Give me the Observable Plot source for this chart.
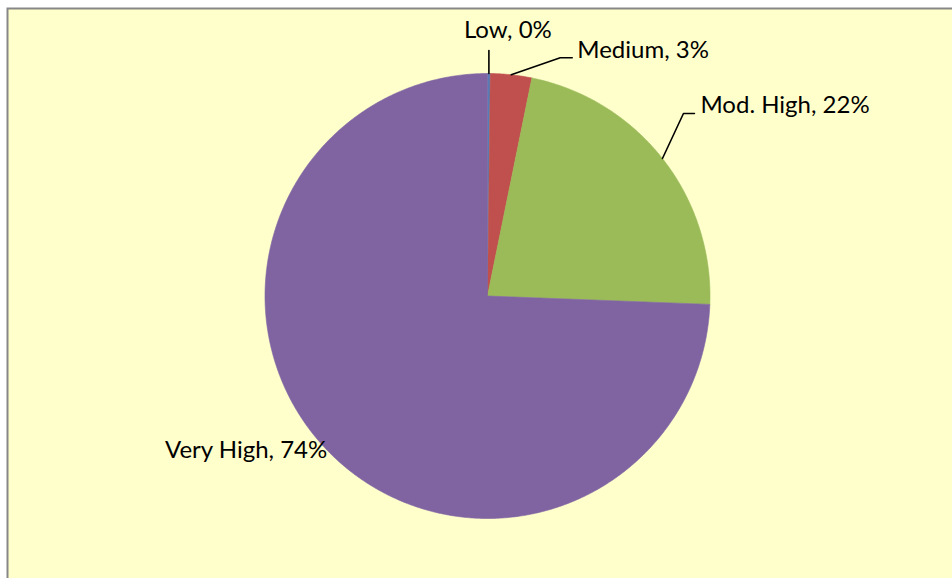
<!DOCTYPE html>
<html><head><meta charset="utf-8">
<script src="https://cdn.jsdelivr.net/npm/d3@7"></script>
<script src="https://cdn.jsdelivr.net/npm/@observablehq/plot@0.6"></script>
<style>html,body{margin:0;padding:0;background:#fff;overflow:hidden}</style>
</head><body><div id="chart"></div>
<script>
// Data
const categories = ["Low", "Medium", "Mod. High", "Very High"];
const values = [0.2, 3.0, 22.4, 74.4];
const colors = ["#4F81BD", "#C0504D", "#9BBB59", "#8064A2"];

// Layout (pixel offsets from each slice's mid-angle point on the rim)
const leaderLayout = [
  [[0, -23]],
  [[49, -17], [61, -17]],
  [[21, -45], [32, -45]],
  []
];
const textLayout = [
  {dx: -25, dy: -43.5, anchor: "start"},
  {dx: 66, dy: -24, anchor: "start"},
  {dx: 38, dy: -53, anchor: "start"},
  {dx: 0, dy: 0, anchor: "end"}
];

const W = 952, H = 578, cx = 487, cy = 295.5, R = 222.5;
const total = d3.sum(values);
let cum = 0;
const slices = categories.map((c, i) => {
  const a0 = cum / total * 2 * Math.PI;
  cum += values[i];
  const a1 = cum / total * 2 * Math.PI;
  return {c, i, a0, a1, mid: (a0 + a1) / 2, pct: Math.round(values[i] / total * 100)};
});

const piePts = [];
slices.forEach(s => {
  piePts.push({c: s.c, x: 0, y: 0});
  const n = Math.max(2, Math.ceil((s.a1 - s.a0) / (Math.PI / 360)));
  for (let j = 0; j <= n; j++) {
    const a = s.a0 + (s.a1 - s.a0) * j / n;
    piePts.push({c: s.c, x: Math.sin(a), y: Math.cos(a)});
  }
});

const leaderPts = [];
const labels = [];
slices.forEach(s => {
  const ax = Math.sin(s.mid), ay = Math.cos(s.mid);
  const lay = leaderLayout[s.i];
  if (lay.length) {
    leaderPts.push({c: s.c, x: ax, y: ay});
    lay.forEach(([dx, dy]) => leaderPts.push({c: s.c, x: ax + dx / R, y: ay - dy / R}));
  }
  const t = textLayout[s.i];
  labels.push({c: s.c, x: ax + t.dx / R, y: ay - t.dy / R, anchor: t.anchor, text: `${s.c}, ${s.pct}%`});
});

const textOpts = {x: "x", y: "y", text: "text", fill: "black", fontSize: 24, fontFamily: "Lato, 'Open Sans', sans-serif", lineAnchor: "middle"};

const chart = Plot.plot({
  width: W, height: H,
  marginLeft: 7, marginTop: 8, marginRight: 0, marginBottom: 0,
  x: {domain: [-1, 1], range: [cx - R, cx + R], axis: null},
  y: {domain: [-1, 1], range: [cy + R, cy - R], axis: null},
  color: {domain: categories, range: colors},
  marks: [
    Plot.frame({fill: "#FFFFCC", stroke: "#878787", strokeWidth: 2, insetRight: -10, insetBottom: -10}),
    Plot.line(piePts, {x: "x", y: "y", z: "c", fill: "c", stroke: "c", strokeWidth: 0.6, curve: "linear-closed"}),
    Plot.line(leaderPts, {x: "x", y: "y", z: "c", stroke: "black", strokeWidth: 1.6}),
    Plot.text(labels.filter(d => d.anchor === "start"), {...textOpts, textAnchor: "start"}),
    Plot.text(labels.filter(d => d.anchor === "end"), {...textOpts, textAnchor: "end"})
  ]
});
document.getElementById("chart").appendChild(chart);
</script>
</body></html>
